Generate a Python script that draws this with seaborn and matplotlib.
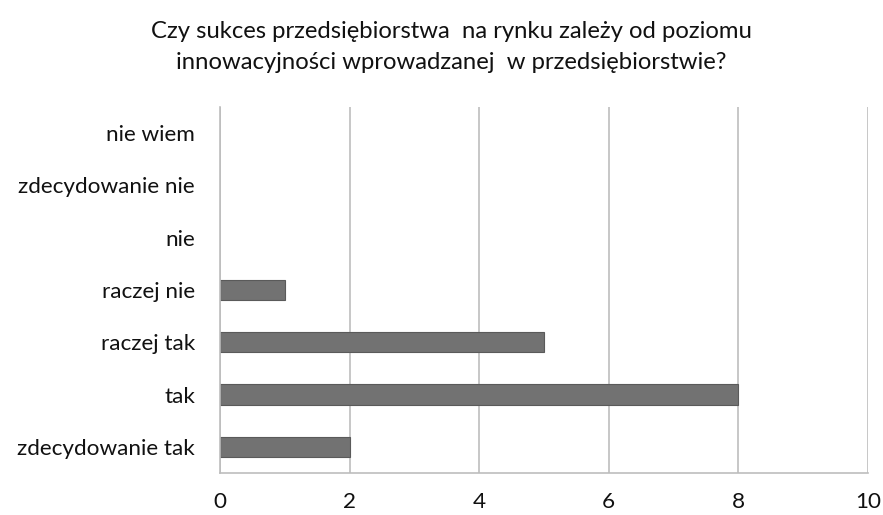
import numpy as np
import pandas as pd
import matplotlib
matplotlib.use("Agg")
import matplotlib.pyplot as plt
import seaborn as sns

# data
categories = ["nie wiem", "zdecydowanie nie", "nie", "raczej nie",
              "raczej tak", "tak", "zdecydowanie tak"]
counts = [0, 0, 0, 1, 5, 8, 2]
x_ticks = [0, 2, 4, 6, 8, 10]
title = ("Czy sukces przedsiębiorstwa  na rynku zależy od poziomu\n"
         "innowacyjności wprowadzanej  w przedsiębiorstwie?")

sns.set_style("white")
plt.rcParams['font.family'] = ['Lato', 'DejaVu Sans']

df = pd.DataFrame({"kategoria": categories, "liczba": counts})

fig = plt.figure(figsize=(8.83, 5.15), dpi=100)
ax = fig.add_axes([220 / 883, 1 - 473 / 515, 648 / 883, 366 / 515])

sns.barplot(data=df, x="liczba", y="kategoria", order=categories, orient="h",
            color="#727272", edgecolor="#5a5a5a", linewidth=0.8,
            width=0.39, saturation=1, ax=ax)

# hide outlines of the empty bars
for p in ax.patches:
    if p.get_width() == 0:
        p.set_linewidth(0)

grid_c = "#bdbdbd"
ax.set_xlim(0, 10)
ax.set_ylim(len(categories) - 0.5, -0.5)
ax.set_xticks(x_ticks)
ax.set_xticklabels([str(t) for t in x_ticks])
ax.xaxis.grid(True, color=grid_c, linewidth=1.2)
ax.set_axisbelow(True)

# category labels centered, tick marks at boundaries
ax.set_yticks(np.arange(len(categories)))
ax.set_yticklabels(categories)
ax.set_yticks(np.arange(len(categories) + 1) - 0.5, minor=True)
ax.tick_params(axis="y", which="major", length=0, pad=18, labelsize=16.2, colors="#111111")
ax.tick_params(axis="y", which="minor", length=7, width=1.2, color=grid_c)
ax.tick_params(axis="x", which="major", length=7, width=1.2, color=grid_c,
               labelsize=16.2, pad=7, labelcolor="#111111")

for side in ["top", "right"]:
    ax.spines[side].set_visible(False)
for side in ["left", "bottom"]:
    ax.spines[side].set_color(grid_c)
    ax.spines[side].set_linewidth(1.2)

ax.set_xlabel("")
ax.set_ylabel("")

fig.text(0.511, 1 - 47 / 515, title, ha="center", va="center",
         fontsize=17.2, color="#111111", linespacing=1.55)

fig.savefig("out.png", dpi=100)
